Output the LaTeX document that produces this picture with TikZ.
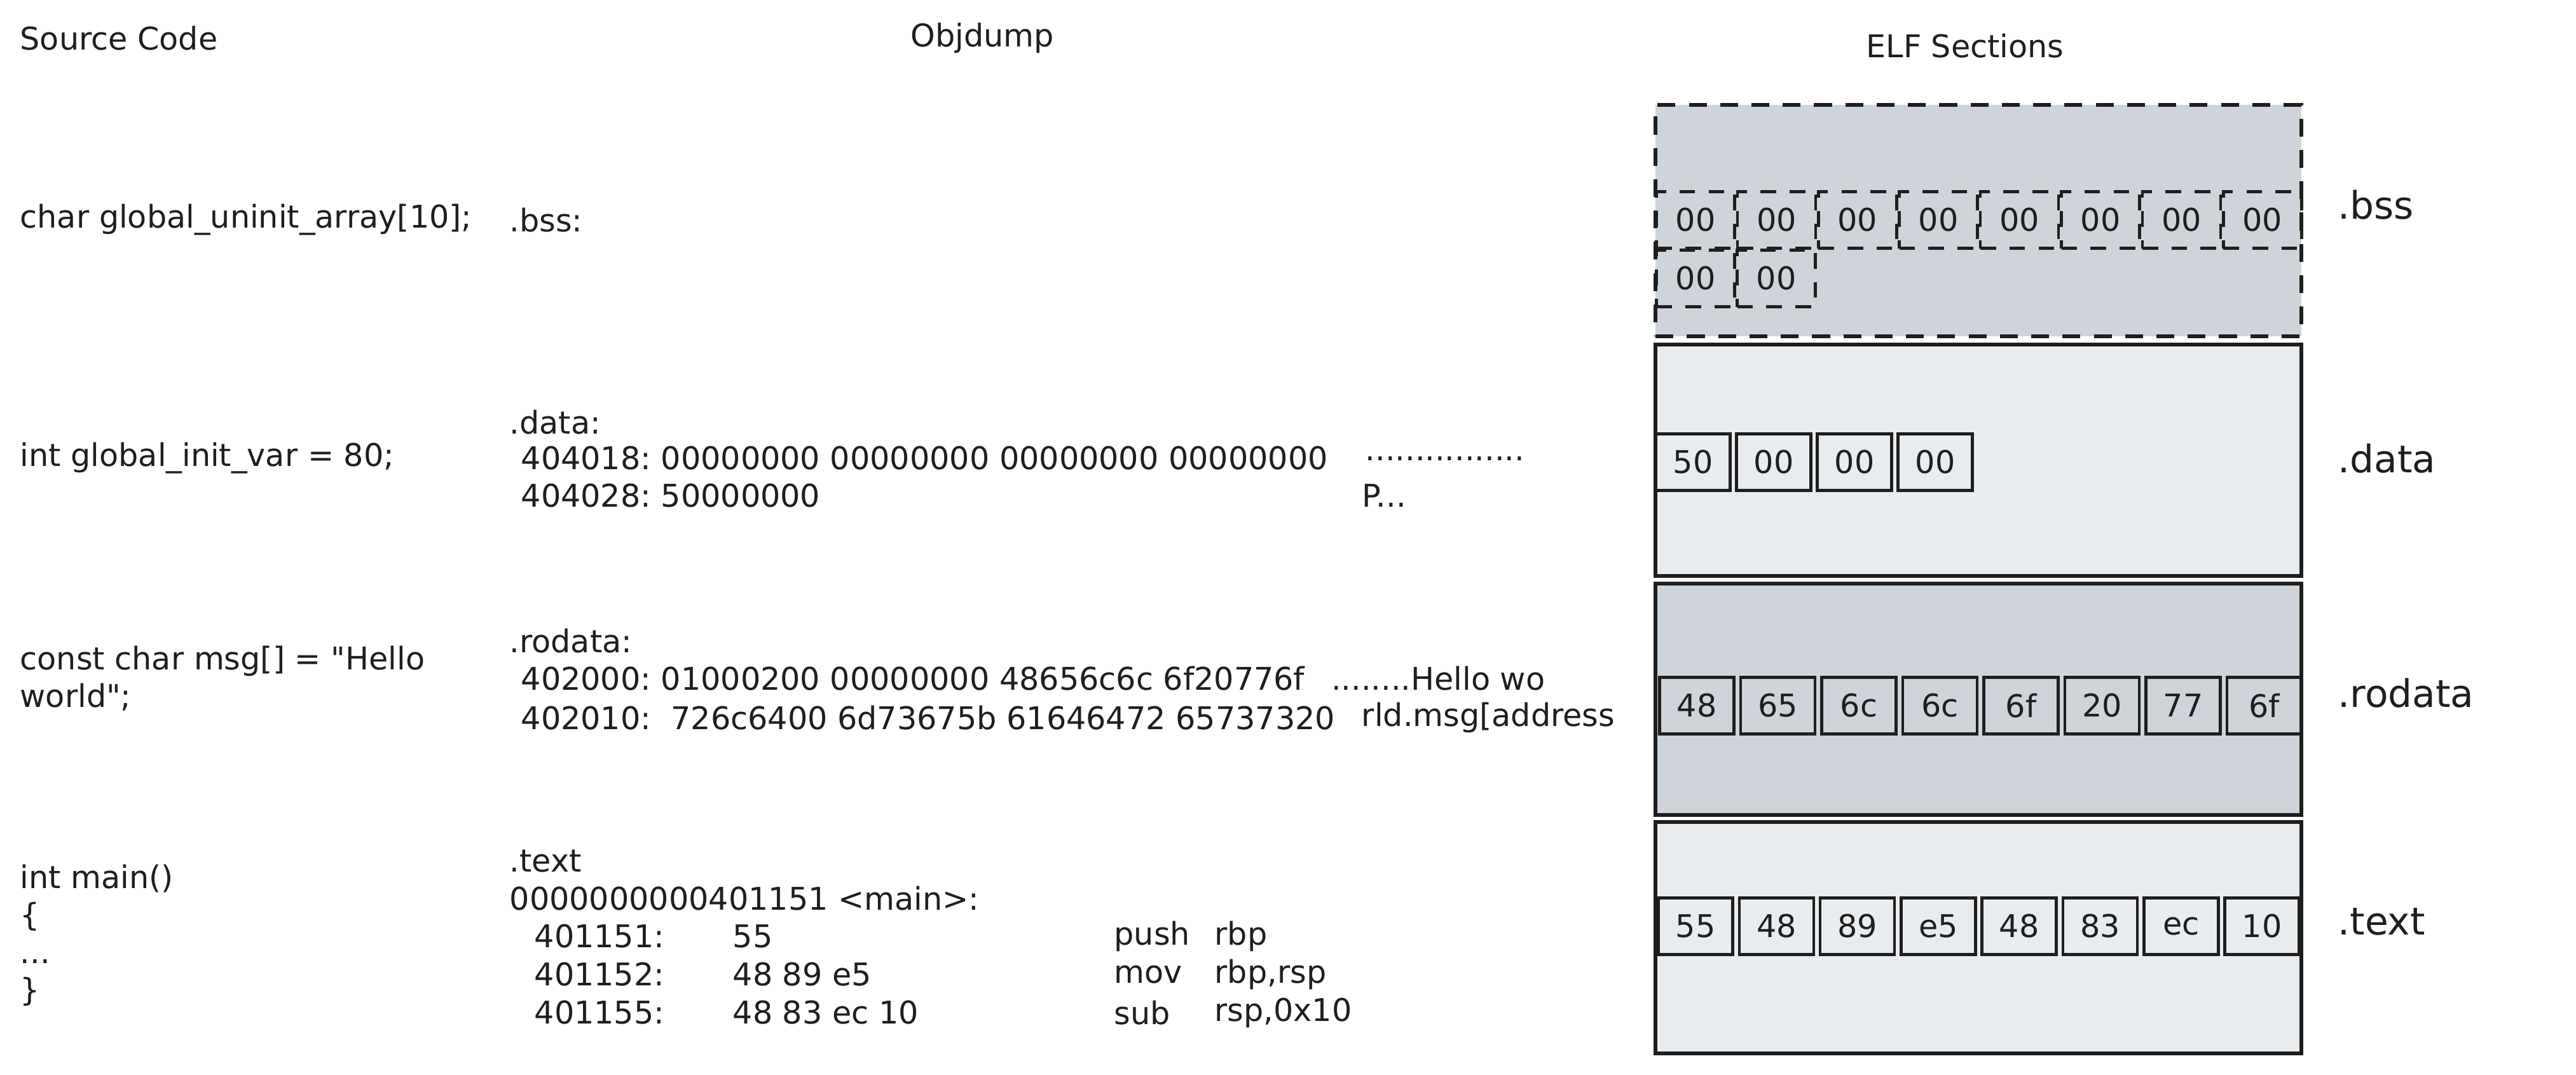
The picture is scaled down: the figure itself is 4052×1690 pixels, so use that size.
\documentclass[tikz,border=0pt]{standalone}
\usepackage{fontspec}
\setmainfont{DejaVu Sans}[Ligatures=TeXOff]
\usetikzlibrary{positioning}
\definecolor{cinza}{HTML}{CED4DA}
\definecolor{claro}{HTML}{E9ECEF}
\definecolor{tinta}{HTML}{1E1E1E}
\frenchspacing

\begin{document}
\begin{tikzpicture}[x=0.01cm,y=-0.01cm,
    texto/.style={anchor=west,inner sep=0pt,text=tinta,font=\fontsize{14}{16.8}\selectfont,align=left},
    titulo/.style={inner sep=0pt,text=tinta,font=\fontsize{14}{16.8}\selectfont},
    secao/.style={draw=tinta,line width=1.7pt,minimum width=10.15cm,minimum height=3.63cm,inner sep=0pt},
    byte/.style={draw=tinta,line width=1.3pt,minimum width=1.17cm,minimum height=0.89cm,inner sep=0pt,
                 text=tinta,font=\fontsize{14}{16}\selectfont},
    vazio/.style={byte,dashed,dash pattern=on 7pt off 6pt,minimum width=1.23cm},
    rotulo/.style={anchor=west,inner sep=0pt,text=tinta,font=\fontsize{17}{20}\selectfont}]
  \useasboundingbox (0,0) rectangle (4052,1690);
  % titulos
  \node[titulo,anchor=west] (hsrc) at (31,60) {Source Code};
  \node[titulo] (hobj) at (1545,60) {Objdump};
  \node[titulo] (helf) at (3091,72) {ELF Sections};
  % codigo fonte
  \node[texto] (sbss) at (31,346) {char global\_uninit\_array[10];};
  \node[texto] (sdata) at (31,721) {int global\_init\_var = 80;};
  \node[texto] (srodata) at (31,1067) {const char msg[] = "Hello\\world";};
  \node[texto] (stext) at (31,1471) {int main()\\\{\\...\\\}};
  % objdump
  \node[texto] (obss) at (801,346) {.bss:};
  \node[texto] (odata) at (801,664) {.data:};
  \node[texto] (odata1) at (819,721) {404018: 00000000 00000000 00000000 00000000};
  \node[texto] (odata2) at (819,780) {404028: 50000000};
  \node[texto] (adata1) at (2147,721) {................};
  \node[texto] (adata2) at (2142,780) {P...};
  \node[texto] (orodata) at (801,1008) {.rodata:};
  \node[texto] (orodata1) at (819,1067) {402000: 01000200 00000000 48656c6c 6f20776f};
  \node[texto] (orodata2) at (819,1129) {402010:\ \ 726c6400 6d73675b 61646472 65737320};
  \node[texto,right=0.4cm of orodata1] (arodata1) {........Hello wo};
  \node[texto,right=0.4cm of orodata2] (arodata2) {rld.msg[address};
  \node[texto] (otext) at (801,1355) {.text};
  \node[texto] (omain) at (801,1413) {0000000000401151 <main>:};
  \foreach \a/\b/\m/\o [count=\i] in {401151:/55/push/rbp,401152:/48 89 e5/mov/{rbp,rsp},401155:/48 83 ec 10/sub/{rsp,0x10}} {
    \node[texto] (end\i) at (840,1413+60*\i) {\a};
    \node[texto] (cod\i) at (1152,1413+60*\i) {\b};
    \node[texto] (mne\i) at (1752,1413+60*\i) {\m};
    \node[texto] (opr\i) at (1910,1413+60*\i) {\o};
  }
  % secoes ELF
  \node[secao,fill=cinza,dashed,dash pattern=on 8pt off 6pt] (bss) at (3112,347) {};
  \node[secao,fill=claro] (data) at (3112,724) {};
  \node[secao,fill=cinza] (rodata) at (3112,1100) {};
  \node[secao,fill=claro] (text) at (3112,1475) {};
  \foreach \i in {0,...,7} \node[vazio] (b\i) at (2667+127.4*\i,346) {00};
  \node[vazio] (b8) at (2667,438) {00};
  \node[vazio] (b9) at (2794,438) {00};
  \foreach \v [count=\i from 0] in {50,00,00,00} \node[byte] (d\i) at (2663+127*\i,727) {\v};
  \foreach \v [count=\i from 0] in {48,65,6c,6c,6f,20,77,6f} \node[byte] (r\i) at (2669+127.5*\i,1110) {\v};
  \foreach \v [count=\i from 0] in {55,48,89,e5,48,83,ec,10} \node[byte] (t\i) at (2667+127.3*\i,1457) {\v};
  \node[rotulo] (lbss) at (3677,322) {.bss};
  \node[rotulo] (ldata) at (3677,721) {.data};
  \node[rotulo] (lrodata) at (3677,1090) {.rodata};
  \node[rotulo] (ltext) at (3677,1450) {.text};
\end{tikzpicture}
\end{document}
